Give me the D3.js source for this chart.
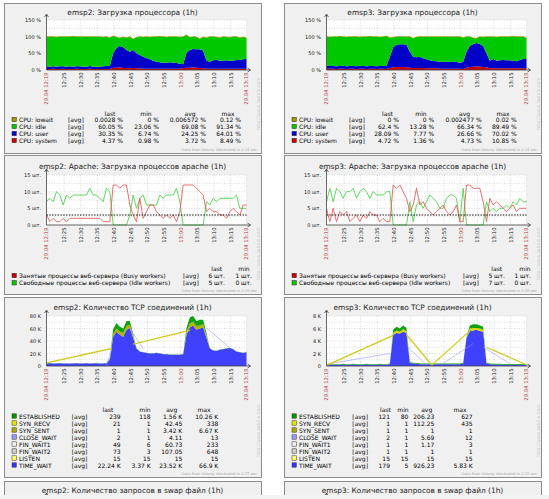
<!DOCTYPE html>
<html>
<head>
<meta charset="utf-8">
<style>
  body { margin: 0; background: #fff; }
  svg { display: block; font-family: 'DejaVu Sans', sans-serif; }
</style>
</head>
<body>
<svg width="549" height="499"></svg>
<script src="https://d3js.org/d3.v7.min.js"></script>
<script>
// one sample per minute, 29.04 12:19 .. 13:19
const timeStart = new Date(2019, 3, 29, 12, 19, 45);
const timeEnd = new Date(2019, 3, 29, 13, 19, 45);

// ---- CPU load, %
const emsp2CpuSystem = [3,3,4,3,3,4,3,3,3,4, 3,3,3,4,3,3,3,3,3,3, 7,7,8,6,6,5,6,5,5,4,
  4,4,4,4,4,4,4,4,4,4, 4,6,7,7,8,7,6,5,4,4, 4,4,4,4,4,4,4,4,4,4,4];
const emsp2CpuUser = [8,7,7,7,8,7,7,8,7,7, 8,7,7,8,7,7,7,8,9,10, 43,59,64,62,54,50,54,45,40,36,
  32,28,24,21,19,18,18,19,18,17, 15,11,45,53,55,55,56,53,24,21, 25,26,24,24,25,24,24,26,26,28,30];
const emsp2CpuIdle = [89,90,89,89,89,89,90,89,91,89, 89,90,90,88,90,90,90,88,88,84, 52,33,24,31,37,45,33,48,55,59,
  64,67,72,75,78,78,77,77,78,79, 80,83,53,38,37,37,32,41,69,75, 71,69,69,72,70,70,72,70,67,67,62];

const emsp3CpuSystem = [4,4,4,3,4,4,3,4,4,3, 4,4,3,4,4,3,4,4,3, 6,8,9,9,9,8, 7,6,6,6,6,
  5,5,5,5,4,4,4,4,4,4,4,3, 7,9,10,11,10,9,8, 5,5,5,5,5,5,5,5,5,5,5,5];
const emsp3CpuUser = [9,8,8,8,8,9,8,8,8,8, 9,8,8,8,8,8,8,8,10, 34,60,67,68,68,68, 48,34,32,34,29,
  27,24,22,21,21,21,21,20,21,20,18,21, 48,63,68,70,68,63,42, 23,28,23,24,25,24,24,23,21,25,28,28];
const emsp3CpuIdle = [87,87,88,89,89,87,88,88,88,89, 86,88,89,89,88,89,87,88,89, 57,30,24,23,23,24, 45,55,61,60,65,
  68,71,73,74,75,75,75,76,75,76,78,73, 45,28,18,14,22,27,50, 72,67,71,71,70,71,71,73,74,70,67,63];

const cpuNames = ["CPU: iowait", "CPU: idle", "CPU: user", "CPU: system"];
const emsp2CpuStats = [
  ["0.0028 %", "0 %", "0.006572 %", "0.12 %"],
  ["60.05 %", "23.06 %", "69.08 %", "91.34 %"],
  ["30.35 %", "6.74 %", "24.25 %", "64.01 %"],
  ["4.37 %", "0.98 %", "3.72 %", "8.49 %"]
];
const emsp3CpuStats = [
  ["0 %", "0 %", "0.002477 %", "0.02 %"],
  ["62.4 %", "13.28 %", "66.34 %", "89.49 %"],
  ["28.09 %", "7.77 %", "26.66 %", "70.02 %"],
  ["4.72 %", "1.36 %", "4.73 %", "10.85 %"]
];
const cpuTicks = [0, 50, 100, 150];

// ---- Apache workers, шт.
const emsp2Busy = [3,1,2,1,1,2,1,2,2,2, 2,2,2,2,2,2,2,1,1,1, 12,12,11,12,12,6,3,1,8,2,
  4,6,6,4,3,2,3,2,3,1, 4,12,12,12,12,11,10,9,4,5, 4,4,3,3,2,4,5,4,3,6,6];
const emsp2Idle = [7,8,7,10,9,6,9,8,9,9, 9,9,9,11,9,9,8,7,11,10, 0,0,0,0,0,3,9,5,8,9,
  6,6,6,6,9,8,9,9,9,11, 7,0,0,0,0,0,0,0,7,6, 8,7,8,8,8,8,8,9,5,5,5];
const emsp3Busy = [5,1,5,1,4,3,4,1,2,3, 1,3,2,4,3,3,1,2,1,1, 12,11,12,10,8,4,6,11,6,7,
  5,4,3,4,5,6,4,3,4,6, 1,1,12,12,11,11,11,7,1,8, 6,7,6,5,4,5,6,4,5,5,5];
const emsp3Idle = [7,11,7,11,10,8,10,10,11,8, 10,11,10,8,10,9,9,9,10,10, 0,0,0,0,0,7,1,6,7,5,
  7,9,8,7,5,5,8,9,9,8, 1,11,0,0,0,0,0,0,7,4, 5,4,5,5,6,5,7,6,8,7,7];
const apacheTrigger = 3;
const apacheNames = ["Занятые процессы веб-сервера (Busy workers)", "Свободные процессы веб-сервера (Idle workers)"];
const emsp2ApacheStats = [["6 шт.", "1 шт."], ["5 шт.", "0 шт."]];
const emsp3ApacheStats = [["5 шт.", "1 шт."], ["7 шт.", "0 шт."]];
const apacheTicks = [0, 5, 10, 15];

// ---- TCP connections, thousands
const emsp2TimeWait = [4.0,4.5,4.0,4.2,4.5,4.0,4.2,4.0,4.1,4.5,4.0,4.2,4.3,4.0,4.1,4.5,4.0,4.2,4.5,
  10,47,55,50,47,58,61,45,28,23,22, 21,20,20,21,20,19,19,18,18,18,18,19,
  50,62,65,58,60,62,45, 28,25,24,26,27,28,29,27,23,22,21,22];
const emsp2SynSent = [0,0,0,0,0,0,0,0,0,0,0,0,0,0,0,0,0,0,0, 1, 4,5,5,6,6,5,3,
  0,0,0,0,0,0,0,0,0,0,0,0,0,0,0, 4,6,6,6,5,5,3, 0,0,0,0,0,0,0,0,0,0,0,0];
const emsp2Established = [0.2,0.2,0.2,0.2,0.2,0.2,0.2,0.2,0.2,0.2,0.2,0.2,0.2,0.2,0.2,0.2,0.2,0.2,0.2, 1,
  8,9,8,7,8,6,3, 0.3,0.3,0.3,0.3,0.3,0.3,0.3,0.3,0.3,0.3,0.3,0.3,0.3,0.3,0.3,
  7,10,9,8,9,7,4, 0.3,0.3,0.3,0.3,0.3,0.3,0.3,0.3,0.3,0.3,0.3,0.3];
// sparse series, [minute, value] segments
const emsp2SynRecvLine = [[[0, 5], [19.5, 28]], [[26, 35], [43, 57]]];
const emsp2CloseWaitLine = [[[18, 1], [19.5, 25]], [[25, 60], [29, 28]], [[48, 61], [55, 29]]];

const emsp3TimeWait = [0.2,0.2,0.2,0.2,0.2,0.25,0.2,0.2,0.25,0.2,0.2,0.2,0.25,0.2,0.2,0.2,0.25,0.2,0.2,
  0.3,5.0,5.3,5.2,5.5,5.3,0.5,0.4, 0.35,0.3,0.3,0.3,0.3,0.3,0.3,0.3,0.3,0.3,0.3,0.3,0.3,0.3,0.4,
  4.5,5.6,5.7,5.8,5.6,5.5,0.4, 0.3,0.25,0.25,0.25,0.2,0.2,0.2,0.2,0.2,0.2,0.2,0.18];
const emsp3SynRecv = [0,0,0,0,0,0,0,0,0,0,0,0,0,0,0,0,0,0,0,0, 0.3,0.4,0.3,0.4,0.3,
  0,0,0,0,0,0,0,0,0,0,0,0,0,0,0,0,0,0, 0.4,0.4,0.3,0.4,0.3, 0,0,0,0,0,0,0,0,0,0,0,0,0];
const emsp3Established = [0.1,0.1,0.1,0.1,0.1,0.1,0.1,0.1,0.1,0.1,0.1,0.1,0.1,0.1,0.1,0.1,0.1,0.1,0.1,0.1,
  0.5,0.6,0.5,0.6,0.5, 0.12,0.12,0.12,0.12,0.12,0.12,0.12,0.12,0.12,0.12,0.12,0.12,0.12,0.12,0.12,0.12,0.12,0.12,
  0.5,0.6,0.6,0.5,0.5, 0.12,0.12,0.12,0.12,0.12,0.12,0.12,0.12,0.12,0.12,0.12,0.12,0.12];
const emsp3SynRecvLine = [[[0, 0.1], [20, 4.9]], [[24, 5.0], [31.5, 0.2]], [[31.5, 0.1], [44, 6.1]], [[48, 3.0], [60, 0.2]]];
const emsp3CloseWaitLine = [[[0, 0.3], [19, 2.0]], [[24, 3.2], [30, 0.2]], [[35, 0.4], [44, 3.6]], [[47, 3.0], [55, 0.4]]];

const tcpNames = ["ESTABLISHED", "SYN_RECV", "SYN_SENT", "CLOSE_WAIT", "FIN_WAIT1", "FIN_WAIT2", "LISTEN", "TIME_WAIT"];
const emsp2TcpStats = [
  ["239", "118", "1.56 K", "10.26 K"], ["21", "1", "42.45", "338"], ["1", "1", "3.42 K", "6.67 K"],
  ["2", "1", "4.11", "13"], ["49", "6", "60.73", "233"], ["73", "3", "107.05", "648"],
  ["15", "15", "15", "15"], ["22.24 K", "3.37 K", "23.52 K", "66.9 K"]
];
const emsp3TcpStats = [
  ["121", "80", "206.23", "627"], ["1", "1", "112.25", "435"], ["1", "1", "1", "1"],
  ["2", "1", "5.69", "12"], ["1", "1", "1.17", "3"], ["1", "1", "1", "1"],
  ["15", "15", "15", "15"], ["179", "5", "926.23", "5.83 K"]
];
const emsp2TcpTicks = [0, 20, 40, 60, 80];
const emsp3TcpTicks = [0, 2, 4, 6, 8];

// ---- layout
const COL_STEP = 280, PLOT_X0 = 46.5, PLOT_X1 = 246.5;
const svg = d3.select("svg");
const hm = d3.timeFormat("%H:%M"), dhm = d3.timeFormat("%d.%m %H:%M");
const timeAt = i => new Date(+timeStart + i * 60000);
const x = d3.scaleTime().domain([timeStart, timeEnd]).range([PLOT_X0, PLOT_X1]);

function txt(g, px, py, s, size, anchor, fill) {
  return g.append("text").attr("x", px).attr("y", py).attr("font-size", size)
    .attr("text-anchor", anchor || "start").attr("dominant-baseline", "central")
    .attr("fill", fill || "#000").text(s);
}

function frame(col, L, title) {
  const g = svg.append("g").attr("transform", `translate(${col * COL_STEP},0)`);
  g.append("rect").attr("x", 4.5).attr("y", L.panelY + 0.5).attr("width", 257).attr("height", L.panelH)
    .attr("fill", "#f0f0f0").attr("stroke", "#8c8c8c");
  txt(g, 132.5, L.titleY, title, 7.4, "middle", "#222");
  return g;
}

function plotBase(g, L, y, ticks, fmt) {
  g.append("rect").attr("x", PLOT_X0).attr("y", L.top).attr("width", PLOT_X1 - PLOT_X0)
    .attr("height", L.bottom - L.top).attr("fill", "#fff");
  const grid = g.append("g").attr("stroke", "#c4c4c4").attr("stroke-width", 0.6).attr("stroke-dasharray", "1,1.5");
  const half = ticks.slice(1).map((t, i) => (t + ticks[i]) / 2);
  ticks.concat(half).forEach(t => grid.append("line").attr("x1", PLOT_X0).attr("x2", PLOT_X1)
    .attr("y1", y(t)).attr("y2", y(t)));
  const tt = x.ticks(d3.timeMinute.every(5)).filter(t => t - timeStart > 120000 && timeEnd - t > 120000);
  tt.concat([timeEnd]).forEach(t => grid.append("line").attr("x1", x(t)).attr("x2", x(t))
    .attr("y1", L.top).attr("y2", L.bottom));
  ticks.forEach(t => txt(g, 41, y(t), fmt(t), 5, "end", "#111"));
  const labels = [[timeStart, dhm, true]].concat(tt.map(t => [t, hm, t.getMinutes() === 0]), [[timeEnd, dhm, true]]);
  labels.forEach(([t, f, red]) => {
    g.append("text").attr("transform", `translate(${x(t) + 1.9},${L.bottom + 2.5}) rotate(-90)`)
      .attr("font-size", 5.3).attr("text-anchor", "end").attr("fill", red ? "#b03c3c" : "#222").text(f(t));
  });
}

function axes(g, L) {
  const a = g.append("g").attr("stroke", "#444").attr("stroke-width", 0.8).attr("fill", "none");
  a.append("line").attr("x1", PLOT_X0).attr("x2", PLOT_X0).attr("y1", L.bottom).attr("y2", L.top - 5);
  a.append("path").attr("d", `M${PLOT_X0 - 2},${L.top - 3} L${PLOT_X0},${L.top - 6} L${PLOT_X0 + 2},${L.top - 3}`);
  a.append("line").attr("x1", PLOT_X0).attr("x2", PLOT_X1 + 4).attr("y1", L.bottom).attr("y2", L.bottom);
  a.append("path").attr("d", `M${PLOT_X1 + 1},${L.bottom - 2} L${PLOT_X1 + 4},${L.bottom} L${PLOT_X1 + 1},${L.bottom + 2}`);
}

function legend(g, L, names, colors, stats, heads) {
  heads.forEach((h, k) => txt(g, L.headX[k], L.headerY, h, 6, "middle"));
  names.forEach((n, j) => {
    const yy = L.rowY + j * L.rowStep;
    g.append("rect").attr("x", 12).attr("y", yy - 2.2).attr("width", 4.4).attr("height", 4.4)
      .attr("fill", colors[j]).attr("stroke", "#333").attr("stroke-width", 0.5);
    txt(g, 19, yy, n, 6);
    txt(g, L.avgX, yy, "[avg]", 6);
    stats[j].forEach((v, k) => txt(g, L.valX[k], yy, v, 6, "end"));
  });
}

function footer(g, L, sec) {
  txt(g, 258, L.panelY + L.panelH - 3, `Data from history. Generated in ${sec} sec.`, 3.7, "end", "#aaa");
  g.append("text").attr("transform", `translate(259.5,${L.panelY + L.panelH - L.urlGap}) rotate(-90)`)
    .attr("font-size", 4.6).attr("fill", "#c4c4c4").text("http://www.zabbix.com");
}

// ---- CPU charts
function cpuChart(col, host, sys, usr, idl, stats, L, sec) {
  const g = frame(col, L, `${host}: Загрузка процессора (1h)`);
  const y = d3.scaleLinear().domain([0, 150]).range([L.bottom, L.top]);
  plotBase(g, L, y, cpuTicks, t => `${t} %`);
  const rows = sys.map((s, i) => ({ t: timeAt(i), system: s, user: usr[i], idle: idl[i] }));
  const layers = d3.stack().keys(["system", "user", "idle"])(rows);
  const colors = { system: "#c80000", user: "#0000c8", idle: "#00c800" };
  const area = d3.area().x(d => x(d.data.t)).y0(d => y(d[0])).y1(d => y(d[1]));
  g.selectAll(".cpu").data(layers).join("path").attr("d", area).attr("fill", d => colors[d.key]);
  // iowait sits on top of the stack
  g.append("path").attr("d", d3.line().x(d => x(d.data.t)).y(d => y(d[1]))(layers[2]))
    .attr("fill", "none").attr("stroke", "#999900").attr("stroke-width", 0.7);
  axes(g, L);
  legend(g, L.legend, cpuNames, ["#999900", "#00c800", "#0000c8", "#c80000"], stats, ["last", "min", "avg", "max"]);
  footer(g, L, sec);
}

// ---- Apache charts
function apacheChart(col, host, busy, idle, stats, L, sec) {
  const g = frame(col, L, `${host}: Apache: Загрузка процессов apache (1h)`);
  const y = d3.scaleLinear().domain([0, 15]).range([L.bottom, L.top]);
  plotBase(g, L, y, apacheTicks, t => `${t} шт.`);
  const line = d3.line().x((d, i) => x(timeAt(i))).y(d => y(d));
  g.append("path").attr("d", line(idle)).attr("fill", "none").attr("stroke", "#4ed24e").attr("stroke-width", 0.9);
  g.append("path").attr("d", line(busy)).attr("fill", "none").attr("stroke", "#e65c5c").attr("stroke-width", 0.9);
  g.append("line").attr("x1", PLOT_X0).attr("x2", PLOT_X1).attr("y1", y(apacheTrigger)).attr("y2", y(apacheTrigger))
    .attr("stroke", "#000").attr("stroke-width", 1.2).attr("stroke-dasharray", "1.4,1.4");
  axes(g, L);
  legend(g, L.legend, apacheNames, ["#c80000", "#00c800"], stats, ["last", "min"]);
  footer(g, L, sec);
}

// ---- TCP charts
const tcpColors = ["#009900", "#e6e600", "#aaaa00", "#9999ff", "#eeeeee", "#cccccc", "#ffff66", "#3333ff"];
function tcpChart(col, host, yMax, ticks, layerDefs, synLine, closeLine, stats, L, sec) {
  const g = frame(col, L, `${host}: Количество TCP соединений (1h)`);
  const y = d3.scaleLinear().domain([0, yMax]).range([L.bottom, L.top]);
  plotBase(g, L, y, ticks, t => t === 0 ? "0" : `${t} K`);
  const rows = layerDefs[0].values.map((v, i) => {
    const r = { t: timeAt(i) };
    layerDefs.forEach(l => { r[l.key] = l.values[i]; });
    return r;
  });
  const layers = d3.stack().keys(layerDefs.map(l => l.key))(rows);
  const area = d3.area().x(d => x(d.data.t)).y0(d => y(d[0])).y1(d => y(d[1]));
  g.selectAll(".tcp").data(layers).join("path").attr("d", area).attr("fill", (d, i) => layerDefs[i].color);
  const seg = d3.line().x(p => x(timeAt(p[0]))).y(p => y(p[1]));
  closeLine.forEach(s => g.append("path").attr("d", seg(s)).attr("fill", "none")
    .attr("stroke", "#9999ff").attr("stroke-width", 0.6));
  synLine.forEach(s => g.append("path").attr("d", seg(s)).attr("fill", "none")
    .attr("stroke", "#cccc22").attr("stroke-width", 1.3));
  axes(g, L);
  legend(g, L.legend, tcpNames, tcpColors, stats, ["last", "min", "avg", "max"]);
  footer(g, L, sec);
}

const cpuL = { panelY: 3, panelH: 150, titleY: 12, top: 20, bottom: 70, urlGap: 23 };
const apacheL = { panelY: 155, panelH: 139, titleY: 166, top: 175, bottom: 225, urlGap: 14 };
const tcpL = { panelY: 297, panelH: 180, titleY: 307, top: 316, bottom: 366, urlGap: 20 };
const swapL = { panelY: 481, panelH: 40, titleY: 490 };

cpuChart(0, "emsp2", emsp2CpuSystem, emsp2CpuUser, emsp2CpuIdle, emsp2CpuStats,
  { ...cpuL, legend: { headerY: 113, rowY: 119.5, rowStep: 7, avgX: 68, headX: [110, 146, 190, 228], valX: [123, 159, 206, 241] } }, "0.14");
cpuChart(1, "emsp3", emsp3CpuSystem, emsp3CpuUser, emsp3CpuIdle, emsp3CpuStats,
  { ...cpuL, legend: { headerY: 113, rowY: 119.5, rowStep: 7, avgX: 69, headX: [107.5, 141, 184.5, 223], valX: [119, 154.3, 201.7, 236.7] } }, "0.14");

apacheChart(0, "emsp2", emsp2Busy, emsp2Idle, emsp2ApacheStats,
  { ...apacheL, legend: { headerY: 268, rowY: 275.5, rowStep: 7.3, avgX: 183, headX: [216.7, 244], valX: [225, 252] } }, "0.09");
apacheChart(1, "emsp3", emsp3Busy, emsp3Idle, emsp3ApacheStats,
  { ...apacheL, legend: { headerY: 268, rowY: 275.5, rowStep: 7.3, avgX: 183, headX: [216.7, 245], valX: [225, 251] } }, "0.08");

tcpChart(0, "emsp2", 80, emsp2TcpTicks,
  [{ key: "tw", values: emsp2TimeWait, color: "#4040ff" }, { key: "ss", values: emsp2SynSent, color: "#b4b400" },
   { key: "est", values: emsp2Established, color: "#10a010" }],
  emsp2SynRecvLine, emsp2CloseWaitLine, emsp2TcpStats,
  { ...tcpL, legend: { headerY: 409, rowY: 416, rowStep: 7, avgX: 71.7, headX: [108, 145, 171.7, 204], valX: [120.7, 150.7, 182.3, 218.3] } }, "0.27");
tcpChart(1, "emsp3", 8, emsp3TcpTicks,
  [{ key: "tw", values: emsp3TimeWait, color: "#4040ff" }, { key: "sr", values: emsp3SynRecv, color: "#d8d800" },
   { key: "est", values: emsp3Established, color: "#10a010" }],
  emsp3SynRecvLine, emsp3CloseWaitLine, emsp3TcpStats,
  { ...tcpL, legend: { headerY: 409, rowY: 416, rowStep: 7, avgX: 72.3, headX: [105.5, 123, 146.7, 180], valX: [110, 128.3, 154.3, 192.7] } }, "0.22");

// swap charts, only their tops are in view
[0, 1].forEach(col => {
  const g = frame(col, swapL, `${col ? "emsp3" : "emsp2"}: Количество запросов в swap файл (1h)`);
  g.append("path").attr("d", `M${PLOT_X0 - 2},496 L${PLOT_X0},493 L${PLOT_X0 + 2},496 M${PLOT_X0},493 V499`)
    .attr("fill", "none").attr("stroke", "#444").attr("stroke-width", 0.8);
});
svg.append("rect").attr("x", 0).attr("y", 495).attr("width", 549).attr("height", 4).attr("fill", "#f3f3f3");
</script>
</body>
</html>
